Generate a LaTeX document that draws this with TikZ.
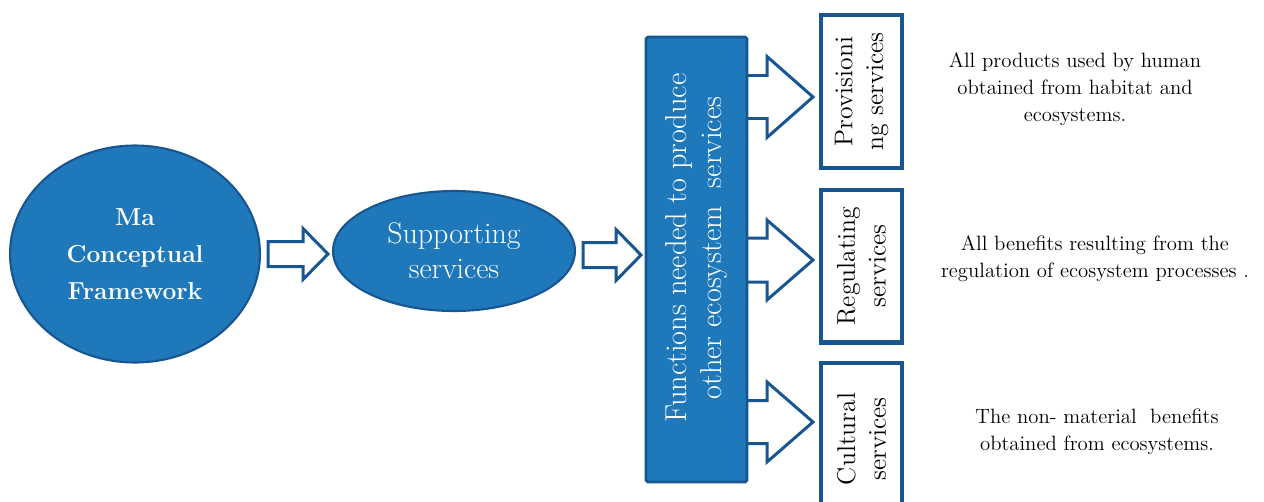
\documentclass[tikz,border=0pt]{standalone}
\usetikzlibrary{shapes.geometric,calc}

\definecolor{fillblue}{RGB}{31,120,186}
\definecolor{lineblue}{RGB}{24,86,146}

\tikzset{
  blob/.style={ellipse, fill=fillblue, draw=lineblue, line width=1.2pt, inner sep=0pt, text=white, align=center},
  fatline/.style={draw=lineblue, line width=1.7pt, fill=white, line join=miter},
  servbox/.style={rectangle, draw=lineblue, line width=2.3pt, fill=white, rotate=90,
    minimum width=3.06cm, minimum height=1.62cm, inner sep=0pt, align=center,
    font=\fontsize{14.6}{17.5}\selectfont},
  desc/.style={align=center, font=\fontsize{11.8}{15.3}\selectfont},
  pics/fatarrow/.style n args={4}{code={
    \draw[fatline] (0,-#3) -- (#1,-#3) -- (#1,-#4) -- (#2,0) -- (#1,#4) -- (#1,#3) -- (0,#3) -- cycle;
  }}
}

\begin{document}
\begin{tikzpicture}[x=0.02cm,y=-0.02cm]
\clip (0,0) rectangle (1264,501);

\node[blob, minimum width=5cm, minimum height=4.34cm, font=\bfseries\fontsize{14}{21}\selectfont] (ma) at (135,254) {Ma\\Conceptual\\Framework};
\node[blob, minimum width=4.84cm, minimum height=2.4cm, font=\fontsize{17}{20}\selectfont] (supp) at (454,251) {Supporting\\services};

\pic at ($(ma.east)+(7,0)$) {fatarrow={35}{60}{12.5}{25.5}};
\pic at ($(supp.east)+(7,4)$) {fatarrow={33}{58}{12.5}{25.5}};

\pic at (740,97) {fatarrow={27}{73}{21.5}{40.5}};
\pic at (740,260) {fatarrow={27}{73}{22}{40}};
\pic at (740,422) {fatarrow={27}{73}{21.5}{40}};

\node[rectangle, fill=fillblue, draw=lineblue, line width=1.5pt, rounded corners=1pt, rotate=90,
  minimum width=8.9cm, minimum height=2.02cm, inner sep=0pt, text=white, align=center,
  font=\fontsize{17.2}{20.4}\selectfont] (func) at (696.5,259.5)
  {\hspace*{0.46cm}Functions needed to produce\\\hspace*{0.46cm}other ecosystem~ services};

\node[servbox] (prov) at (861.5,91.5) {Provisioni\\ng services};
\node[servbox] (regu) at (861.5,266) {Regulating\\services};
\node[servbox] (cult) at (861.5,439) {Cultural\\services};

\node[desc] (provtxt) at (1075,89) {All products used by human\\obtained from habitat and\\ecosystems.};
\node[desc] (regutxt) at (1095,259) {All benefits resulting from the\\regulation of ecosystem processes .};
\node[desc] (culttxt) at (1097,432) {The non- material~ benefits\\obtained from ecosystems.};

\end{tikzpicture}
\end{document}
